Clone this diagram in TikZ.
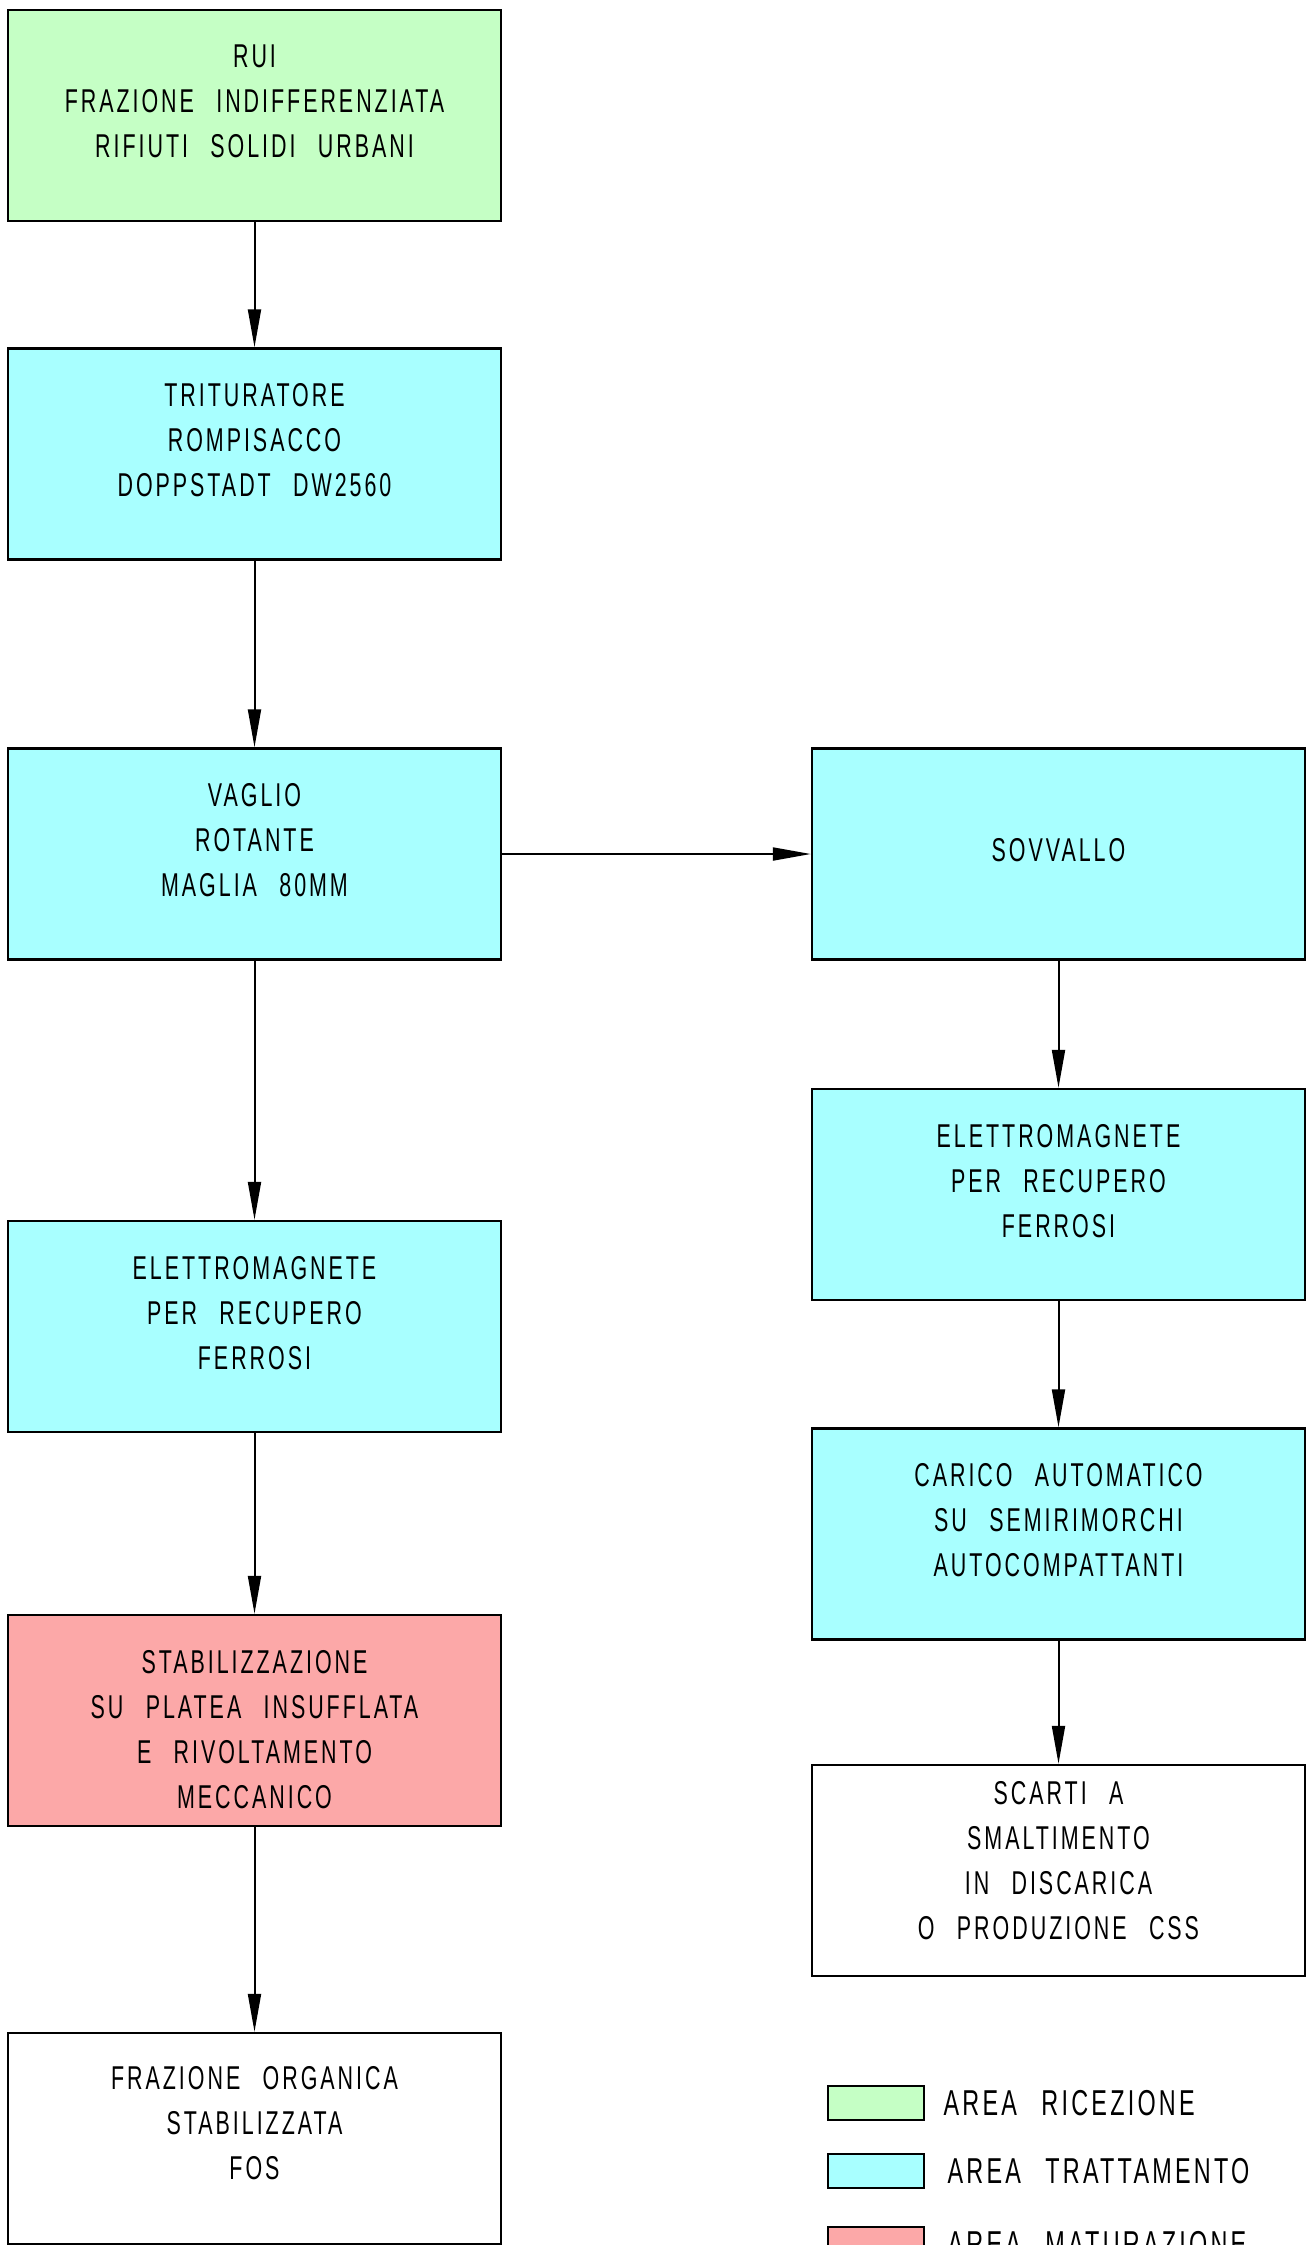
\documentclass[tikz,border=0pt]{standalone}
\usepackage{fontspec}
\setmainfont{Liberation Sans}[FakeStretch=0.65,LetterSpace=9,WordSpace=2.5]
\usetikzlibrary{arrows.meta,positioning}
\definecolor{ricezione}{RGB}{197,255,197}
\definecolor{trattamento}{RGB}{168,255,255}
\definecolor{maturazione}{RGB}{252,168,168}

\begin{document}
\begin{tikzpicture}[
   x=0.5pt, y=-0.5pt,   % <-- one unit = one pixel of the sheet
   every node/.append style={align=center},
   phase/.style={draw, line width=1.2pt, inner sep=0pt,
      minimum width=246.5pt, minimum height=105.5pt, text depth=14pt,
      font=\fontsize{16.5}{22.5}\selectfont},
   flow/.style={line width=1pt, -{Triangle[length=19pt,width=6.5pt]}},
   swatch/.style={draw, line width=1.2pt, inner sep=0pt,
      minimum width=48pt, minimum height=17pt},
   legtext/.style={inner sep=0pt, font=\fontsize{18}{22}\selectfont}
]
\useasboundingbox (0,0) rectangle (1313,2245);

% main line
\node[phase, fill=ricezione] (rui) at (254.5,115.5)
    {RUI\\FRAZIONE INDIFFERENZIATA\\RIFIUTI SOLIDI URBANI};
\node[phase, fill=trattamento] (trit) at (254.5,454)
    {TRITURATORE\\ROMPISACCO\\DOPPSTADT DW2560};
\node[phase, fill=trattamento] (vaglio) at (254.5,854)
    {VAGLIO\\ROTANTE\\MAGLIA 80MM};
\node[phase, fill=trattamento] (elleft) at (254.5,1326.5)
    {ELETTROMAGNETE\\PER RECUPERO\\FERROSI};
\node[phase, fill=maturazione, text height=87.5pt, text depth=0pt] (stab) at (254.5,1720.5)
    {STABILIZZAZIONE\\SU PLATEA INSUFFLATA\\E RIVOLTAMENTO\\MECCANICO};
\node[phase, text depth=16pt] (fos) at (254.5,2138.5)
    {FRAZIONE ORGANICA\\STABILIZZATA\\FOS};

% oversize line
\node[phase, fill=trattamento, text depth=4pt] (sovv) at (1058.5,854) {SOVVALLO};
\node[phase, fill=trattamento] (elright) at (1058.5,1194.5)
    {ELETTROMAGNETE\\PER RECUPERO\\FERROSI};
\node[phase, fill=trattamento] (carico) at (1058.5,1534)
    {CARICO AUTOMATICO\\SU SEMIRIMORCHI\\AUTOCOMPATTANTI};
\node[phase, text depth=10pt] (scarti) at (1058.5,1870.5)
    {SCARTI A\\SMALTIMENTO\\IN DISCARICA\\O PRODUZIONE CSS};

\draw[flow] (rui) -- (trit);
\draw[flow] (trit) -- (vaglio);
\draw[flow] (vaglio) -- (sovv);
\draw[flow] (vaglio) -- (elleft);
\draw[flow] (elleft) -- (stab);
\draw[flow] (stab) -- (fos);
\draw[flow] (sovv) -- (elright);
\draw[flow] (elright) -- (carico);
\draw[flow] (carico) -- (scarti);

% legend
\node[swatch, fill=ricezione] (legrec) at (876,2103) {};
\node[swatch, fill=trattamento] (legtrat) at (876,2171) {};
\node[swatch, fill=maturazione] (legmat) at (876,2244) {};
\node[legtext, right=9pt of legrec] (legrectext) {AREA RICEZIONE};
\node[legtext, right=11pt of legtrat] (legtrattext) {AREA TRATTAMENTO};
\node[legtext, right=11pt of legmat] (legmattext) {AREA MATURAZIONE};
\end{tikzpicture}
\end{document}
